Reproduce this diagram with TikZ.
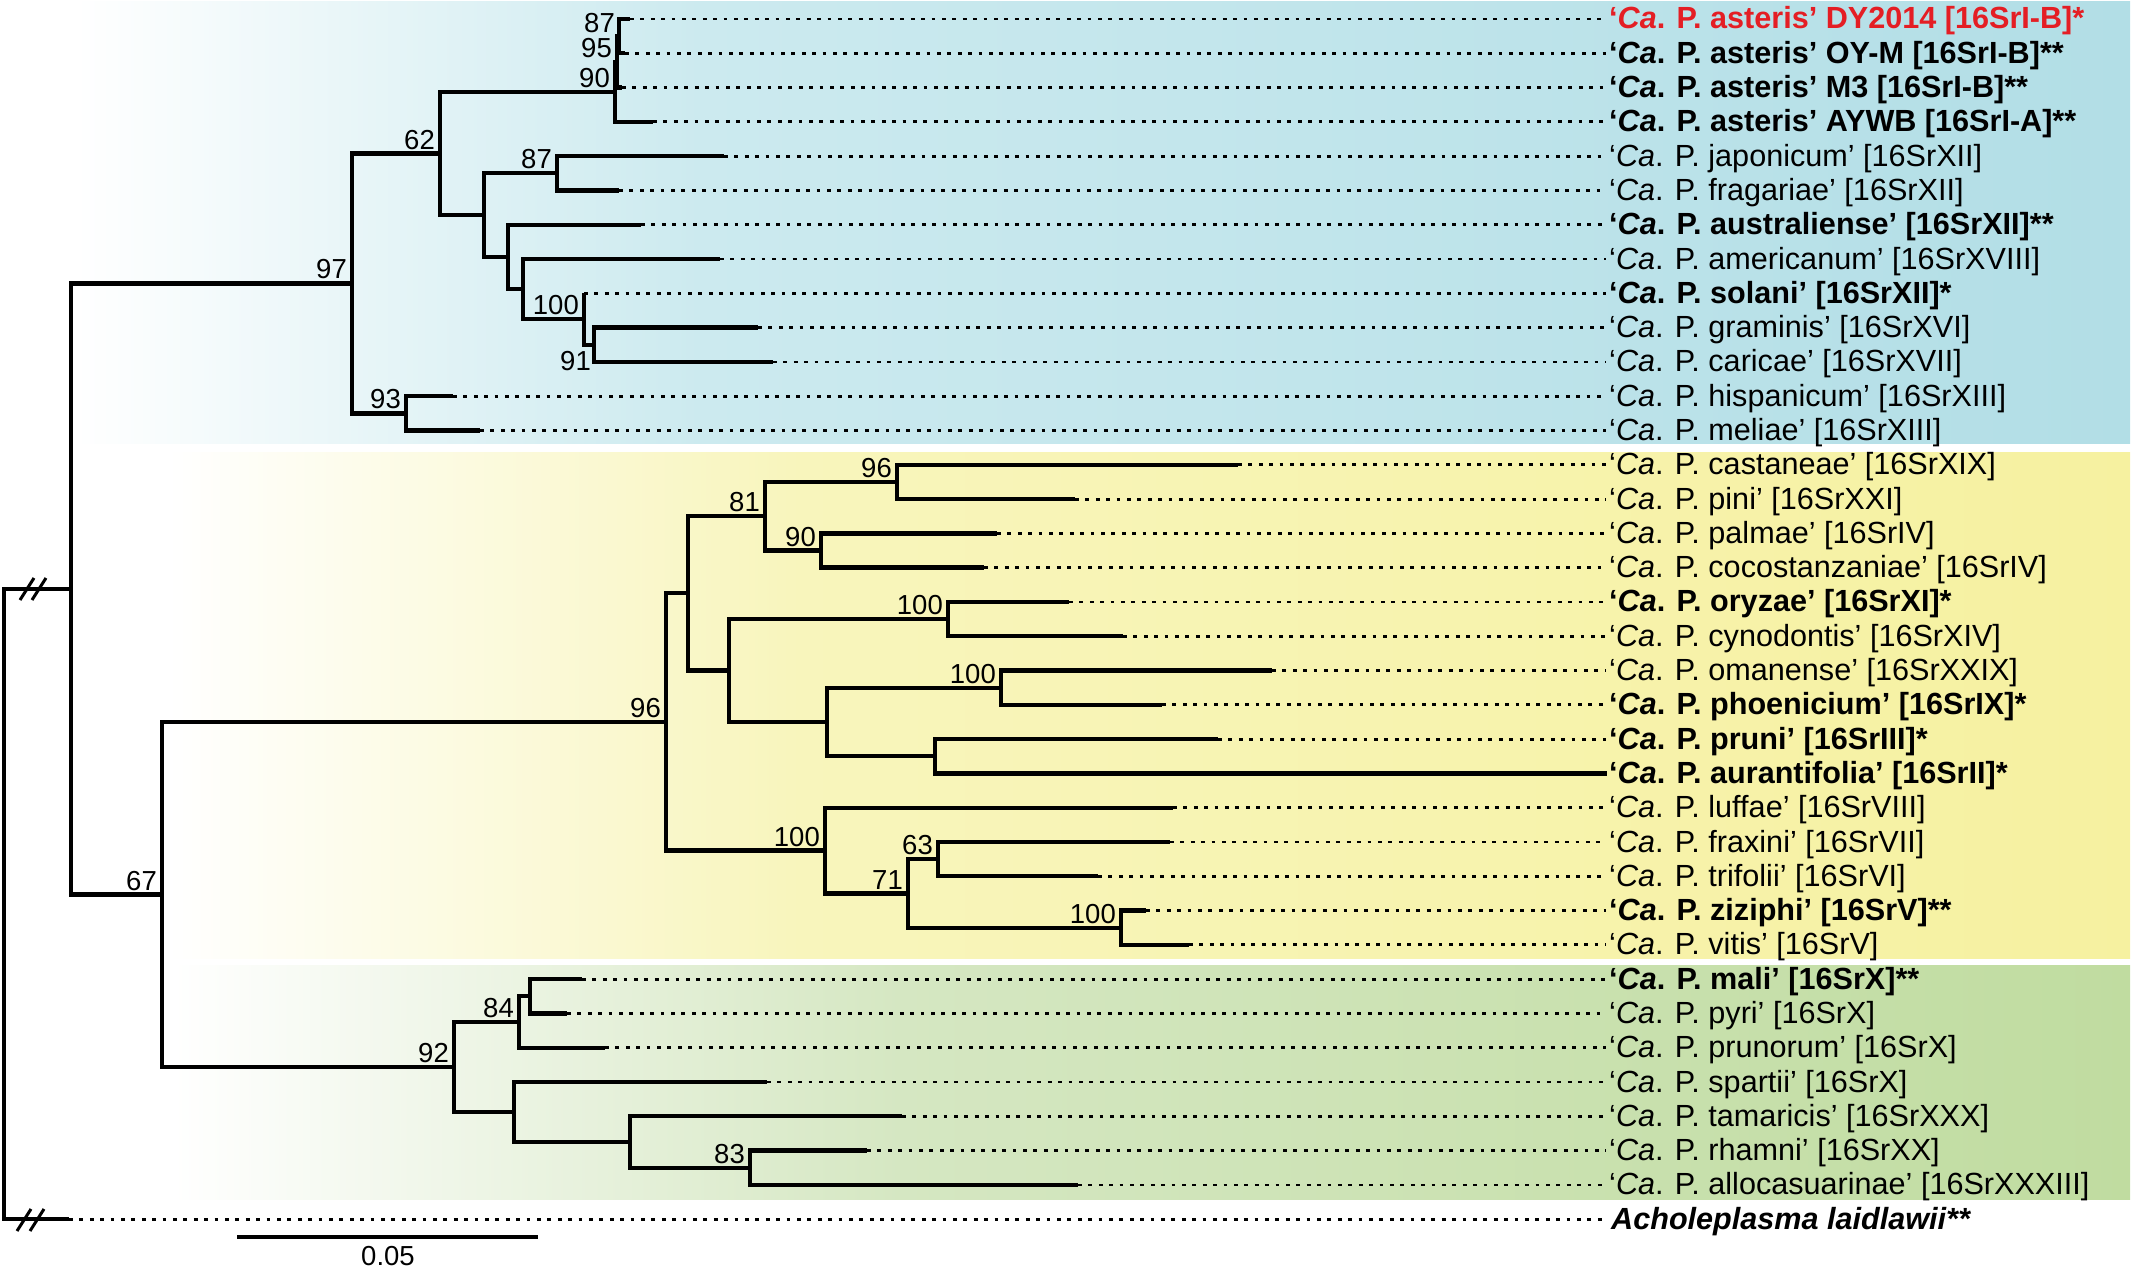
\documentclass[tikz,border=0pt]{standalone}
\usepackage{fontspec}
\setmainfont{Liberation Sans}
\definecolor{bblue}{RGB}{178,222,230}
\definecolor{bbluem}{RGB}{204,234,239}
\definecolor{byel}{RGB}{246,241,160}
\definecolor{byelm}{RGB}{248,245,188}
\definecolor{bgrn}{RGB}{192,220,160}
\definecolor{bgrnm}{RGB}{213,231,194}
\definecolor{redlab}{RGB}{228,30,36}
\newcommand{\caP}[1]{‘\textit{Ca}. P. #1}
\begin{document}
\begin{tikzpicture}[x=1pt,y=-1pt,
 br/.style={line width=4.3pt, line cap=butt, line join=miter},
 dotl/.style={line width=2.8pt, dash pattern=on 3.8pt off 6.6pt, shorten >=3pt},
 lab/.style={anchor=base west, inner sep=0pt, font=\fontsize{30.6}{31}\selectfont},
 blab/.style={anchor=base west, inner sep=0pt, font=\fontsize{30.6}{31}\selectfont\bfseries},
 bs/.style={anchor=south east, inner sep=0pt, xshift=-5pt, yshift=4pt, font=\fontsize{27.5}{28}\selectfont},
 brk/.style={line width=3pt},
]
\useasboundingbox (0,0) rectangle (2133,1268);
% background bands
\shade[left color=white, right color=bbluem] (75,2) rectangle (700,443);
\shade[left color=bbluem, right color=bblue] (699,2) rectangle (2130,443);
\shade[left color=white, right color=byelm] (168,452) rectangle (800,958);
\shade[left color=byelm, right color=byel] (799,452) rectangle (2130,958);
\shade[left color=white, right color=bgrnm] (173,965) rectangle (900,1199);
\shade[left color=bgrnm, right color=bgrn] (899,965) rectangle (2130,1199);

% internal nodes
\coordinate (root) at (4,904);
\coordinate (ing) at (71,589);
\coordinate (n97) at (352,283.4);
\coordinate (n62) at (440,153.5);
\coordinate (nA) at (615,91.9);
\coordinate (nB) at (617,61.9);
\coordinate (nC) at (619,36.15);
\coordinate (nD) at (484,215.1);
\coordinate (nJap) at (557,173.35);
\coordinate (nE) at (508,256.9);
\coordinate (nF) at (523,289);
\coordinate (nS) at (584,319);
\coordinate (n91) at (594,344.75);
\coordinate (n93) at (406,413.35);
\coordinate (n67) at (162,894.5);
\coordinate (n96) at (666,721.9);
\coordinate (nG) at (688,593.3);
\coordinate (n81) at (765,516.2);
\coordinate (n96c) at (897,482);
\coordinate (n90y) at (821,550.5);
\coordinate (nH) at (729,670.5);
\coordinate (n100a) at (948,619);
\coordinate (nI) at (827,722);
\coordinate (n100b) at (1001,687.7);
\coordinate (nJ) at (935,756.2);
\coordinate (nK) at (825,850.5);
\coordinate (n71) at (908,893.4);
\coordinate (n63) at (938,859.1);
\coordinate (n100c) at (1121,927.7);
\coordinate (n92) at (454,1067);
\coordinate (nL) at (519,1022);
\coordinate (n84) at (530,996.2);
\coordinate (nM) at (514,1112);
\coordinate (nN) at (630,1142);
\coordinate (n83) at (750,1167.7);
% tips
\coordinate (t0) at (630,19.0);
\coordinate (t1) at (625,53.3);
\coordinate (t2) at (622,87.6);
\coordinate (t3) at (653,121.9);
\coordinate (t4) at (724,156.2);
\coordinate (t5) at (619,190.5);
\coordinate (t6) at (641,224.7);
\coordinate (t7) at (720,259.0);
\coordinate (t8) at (584,293.3);
\coordinate (t9) at (758,327.6);
\coordinate (t10) at (773,361.9);
\coordinate (t11) at (453,396.2);
\coordinate (t12) at (480,430.5);
\coordinate (t13) at (1238,464.8);
\coordinate (t14) at (1075,499.1);
\coordinate (t15) at (997,533.4);
\coordinate (t16) at (984,567.6);
\coordinate (t17) at (1069,601.9);
\coordinate (t18) at (1123,636.2);
\coordinate (t19) at (1272,670.5);
\coordinate (t20) at (1162,704.8);
\coordinate (t21) at (1218,739.1);
\coordinate (t22) at (1607,773.4);
\coordinate (t23) at (1173,807.7);
\coordinate (t24) at (1170,842.0);
\coordinate (t25) at (1098,876.3);
\coordinate (t26) at (1146,910.6);
\coordinate (t27) at (1189,944.8);
\coordinate (t28) at (582,979.1);
\coordinate (t29) at (567,1013.4);
\coordinate (t30) at (605,1047.7);
\coordinate (t31) at (767,1082.0);
\coordinate (t32) at (902,1116.3);
\coordinate (t33) at (867,1150.6);
\coordinate (t34) at (1078,1184.9);
\coordinate (t35) at (69,1219.2);

% labels
\node[blab, text=redlab] (L0) at (1609,29.0) {\caP{asteris’ DY2014 [16SrI-B]*}};
\node[blab] (L1) at (1609,63.3) {\caP{asteris’ OY-M [16SrI-B]**}};
\node[blab] (L2) at (1609,97.6) {\caP{asteris’ M3 [16SrI-B]**}};
\node[blab] (L3) at (1609,131.9) {\caP{asteris’ AYWB [16SrI-A]**}};
\node[lab] (L4) at (1609,166.2) {\caP{japonicum’ [16SrXII]}};
\node[lab] (L5) at (1609,200.5) {\caP{fragariae’ [16SrXII]}};
\node[blab] (L6) at (1609,234.7) {\caP{australiense’ [16SrXII]**}};
\node[lab] (L7) at (1609,269.0) {\caP{americanum’ [16SrXVIII]}};
\node[blab] (L8) at (1609,303.3) {\caP{solani’ [16SrXII]*}};
\node[lab] (L9) at (1609,337.6) {\caP{graminis’ [16SrXVI]}};
\node[lab] (L10) at (1609,371.9) {\caP{caricae’ [16SrXVII]}};
\node[lab] (L11) at (1609,406.2) {\caP{hispanicum’ [16SrXIII]}};
\node[lab] (L12) at (1609,440.5) {\caP{meliae’ [16SrXIII]}};
\node[lab] (L13) at (1609,474.8) {\caP{castaneae’ [16SrXIX]}};
\node[lab] (L14) at (1609,509.1) {\caP{pini’ [16SrXXI]}};
\node[lab] (L15) at (1609,543.4) {\caP{palmae’ [16SrIV]}};
\node[lab] (L16) at (1609,577.6) {\caP{cocostanzaniae’ [16SrIV]}};
\node[blab] (L17) at (1609,611.9) {\caP{oryzae’ [16SrXI]*}};
\node[lab] (L18) at (1609,646.2) {\caP{cynodontis’ [16SrXIV]}};
\node[lab] (L19) at (1609,680.5) {\caP{omanense’ [16SrXXIX]}};
\node[blab] (L20) at (1609,714.8) {\caP{phoenicium’ [16SrIX]*}};
\node[blab] (L21) at (1609,749.1) {\caP{pruni’ [16SrIII]*}};
\node[blab] (L22) at (1609,783.4) {\caP{aurantifolia’ [16SrII]*}};
\node[lab] (L23) at (1609,817.7) {\caP{luffae’ [16SrVIII]}};
\node[lab] (L24) at (1609,852.0) {\caP{fraxini’ [16SrVII]}};
\node[lab] (L25) at (1609,886.3) {\caP{trifolii’ [16SrVI]}};
\node[blab] (L26) at (1609,920.6) {\caP{ziziphi’ [16SrV]**}};
\node[lab] (L27) at (1609,954.8) {\caP{vitis’ [16SrV]}};
\node[blab] (L28) at (1609,989.1) {\caP{mali’ [16SrX]**}};
\node[lab] (L29) at (1609,1023.4) {\caP{pyri’ [16SrX]}};
\node[lab] (L30) at (1609,1057.7) {\caP{prunorum’ [16SrX]}};
\node[lab] (L31) at (1609,1092.0) {\caP{spartii’ [16SrX]}};
\node[lab] (L32) at (1609,1126.3) {\caP{tamaricis’ [16SrXXX]}};
\node[lab] (L33) at (1609,1160.6) {\caP{rhamni’ [16SrXX]}};
\node[lab] (L34) at (1609,1194.9) {\caP{allocasuarinae’ [16SrXXXIII]}};
\node[blab] (L35) at (1611,1229.2) {\textit{Acholeplasma laidlawii**}};

% dotted leaders
\foreach \i in {0,1,...,21} {\draw[dotl] (t\i) -- (t\i -| L\i.west);}
\foreach \i in {23,24,...,35} {\draw[dotl] (t\i) -- (t\i -| L\i.west);}

% branches
\draw[br] (root) |- (ing); \draw[br] (root) |- (t35);
\draw[br] (ing) |- (n97); \draw[br] (ing) |- (n67);
\draw[br] (n97) |- (n62); \draw[br] (n97) |- (n93);
\draw[br] (n62) |- (nA); \draw[br] (n62) |- (nD);
\draw[br] (nA) |- (nB); \draw[br] (nA) |- (t3);
\draw[br] (nB) |- (nC); \draw[br] (nB) |- (t2);
\draw[br] (nC) |- (t0); \draw[br] (nC) |- (t1);
\draw[br] (nD) |- (nJap); \draw[br] (nD) |- (nE);
\draw[br] (nJap) |- (t4); \draw[br] (nJap) |- (t5);
\draw[br] (nE) |- (t6); \draw[br] (nE) |- (nF);
\draw[br] (nF) |- (t7); \draw[br] (nF) |- (nS);
\draw[br] (nS) |- (t8); \draw[br] (nS) |- (n91);
\draw[br] (n91) |- (t9); \draw[br] (n91) |- (t10);
\draw[br] (n93) |- (t11); \draw[br] (n93) |- (t12);
\draw[br] (n67) |- (n96); \draw[br] (n67) |- (n92);
\draw[br] (n96) |- (nG); \draw[br] (n96) |- (nK);
\draw[br] (nG) |- (n81); \draw[br] (nG) |- (nH);
\draw[br] (n81) |- (n96c); \draw[br] (n81) |- (n90y);
\draw[br] (n96c) |- (t13); \draw[br] (n96c) |- (t14);
\draw[br] (n90y) |- (t15); \draw[br] (n90y) |- (t16);
\draw[br] (nH) |- (n100a); \draw[br] (nH) |- (nI);
\draw[br] (n100a) |- (t17); \draw[br] (n100a) |- (t18);
\draw[br] (nI) |- (n100b); \draw[br] (nI) |- (nJ);
\draw[br] (n100b) |- (t19); \draw[br] (n100b) |- (t20);
\draw[br] (nJ) |- (t21); \draw[br] (nJ) |- (t22);
\draw[br] (nK) |- (t23); \draw[br] (nK) |- (n71);
\draw[br] (n71) |- (n63); \draw[br] (n71) |- (n100c);
\draw[br] (n63) |- (t24); \draw[br] (n63) |- (t25);
\draw[br] (n100c) |- (t26); \draw[br] (n100c) |- (t27);
\draw[br] (n92) |- (nL); \draw[br] (n92) |- (nM);
\draw[br] (nL) |- (n84); \draw[br] (nL) |- (t30);
\draw[br] (n84) |- (t28); \draw[br] (n84) |- (t29);
\draw[br] (nM) |- (t31); \draw[br] (nM) |- (nN);
\draw[br] (nN) |- (t32); \draw[br] (nN) |- (n83);
\draw[br] (n83) |- (t33); \draw[br] (n83) |- (t34);

% break marks
\draw[brk] (20,600) -- (34,578); \draw[brk] (32,600) -- (46,578);
\draw[brk] (17,1231) -- (31,1209); \draw[brk] (30,1231) -- (44,1209);

% bootstrap values
\node[bs] at (n97) {97};
\node[bs] at (n62) {62};
\node[bs, xshift=1pt, yshift=-1pt] at (nC) {87};
\node[bs] at (nB) {95};
\node[bs] at (nA) {90};
\node[bs] at (nJap) {87};
\node[bs] at (nS) {100};
\node[bs, anchor=north east, yshift=-10pt, xshift=2pt] at (n91) {91};
\node[bs] at (n93) {93};
\node[bs] at (n67) {67};
\node[bs] at (n96) {96};
\node[bs] at (n81) {81};
\node[bs] at (n96c) {96};
\node[bs] at (n90y) {90};
\node[bs] at (n100a) {100};
\node[bs] at (n100b) {100};
\node[bs] at (nK) {100};
\node[bs] at (n63) {63};
\node[bs] at (n71) {71};
\node[bs] at (n100c) {100};
\node[bs] at (n92) {92};
\node[bs] at (nL) {84};
\node[bs] at (n83) {83};

% scale bar
\coordinate (sbL) at (237,1237);
\coordinate (sbR) at (538,1237);
\draw[br] (sbL) -- (sbR);
\node[font=\fontsize{27.5}{28}\selectfont, inner sep=0pt] (sbT) at (388,1256) {0.05};
\end{tikzpicture}
\end{document}
